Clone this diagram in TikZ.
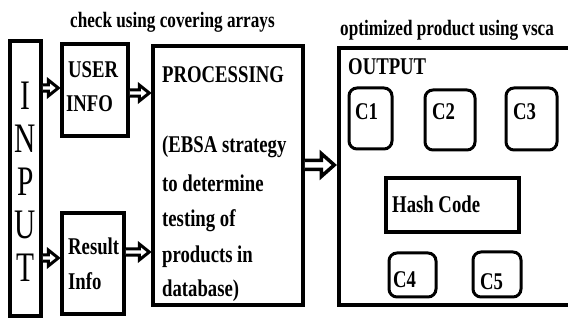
\documentclass[tikz,border=0pt]{standalone}
\usepackage{fontspec}
\setmainfont{Liberation Serif}
\newfontfamily\nar{Liberation Serif}[FakeStretch=0.78]
\newfontfamily\inpf{Liberation Serif}[FakeStretch=0.7]
\usetikzlibrary{arrows.meta,calc}
\begin{document}
\begin{tikzpicture}[x=1pt,y=-1pt,
  box/.style={draw, line width=3.5pt, rectangle, inner sep=0pt},
  cbox/.style={draw, line width=3pt, rectangle, rounded corners=8pt, inner sep=0pt},
  txt/.style={anchor=base west, inner sep=0pt, font=\nar\bfseries\fontsize{24}{36}\selectfont},
  lbl/.style={anchor=base west, inner sep=0pt, font=\nar\bfseries\fontsize{22}{26}\selectfont},
  inl/.style={anchor=base, inner sep=0pt, font=\inpf\fontsize{42}{44}\selectfont},
  harrow/.style={draw, line width=3pt, fill=white, line join=miter, miter limit=4,
    to path={let \p1=(\tikztostart), \p2=(\tikztotarget) in
      (\x1,\y1+3.2pt) -- (\x2-12pt,\y1+3.2pt) -- (\x2-12pt,\y1+8pt) -- (\x2-2pt,\y1)
      -- (\x2-12pt,\y1-8pt) -- (\x2-12pt,\y1-3.2pt) -- (\x1,\y1-3.2pt)}},
  bigharrow/.style={draw, line width=3.5pt, fill=white, line join=miter, miter limit=4,
    to path={let \p1=(\tikztostart), \p2=(\tikztotarget) in
      (\x1,\y1+4.5pt) -- (\x2-16pt,\y1+4.5pt) -- (\x2-16pt,\y1+11.5pt) -- (\x2-3pt,\y1)
      -- (\x2-16pt,\y1-11.5pt) -- (\x2-16pt,\y1-4.5pt) -- (\x1,\y1-4.5pt)}}]
\useasboundingbox[fill=white] (0,0) rectangle (568,320);

% arrows (drawn first so the box borders cover their starts)
\coordinate (a0) at (40,88);
\coordinate (a1) at (126,93);
\coordinate (a2) at (40,258);
\coordinate (a3) at (122,252);
\coordinate (a4) at (301,165);

% boxes
\node[box, minimum width=31pt, minimum height=275pt] (inp) at (25.5,178.5) {};
\node[box, minimum width=66pt, minimum height=92pt] (user) at (95,90) {};
\node[box, minimum width=62pt, minimum height=101pt] (res) at (93,263.5) {};
\node[box, minimum width=150pt, minimum height=259pt] (proc) at (228,175.5) {};
\node[box, minimum width=261pt, minimum height=257pt] (out) at (469.5,176.5) {};
\node[cbox, minimum width=43pt, minimum height=61pt] (c1) at (370.5,118.5) {};
\node[cbox, minimum width=50pt, minimum height=60pt] (c2) at (450,120) {};
\node[cbox, minimum width=51pt, minimum height=62pt] (c3) at (531.5,119) {};
\node[box, minimum width=133pt, minimum height=54pt] (hash) at (452.5,205) {};
\node[cbox, minimum width=47pt, minimum height=44pt] (c4) at (412.5,275) {};
\node[cbox, minimum width=48pt, minimum height=45pt] (c5) at (497,274.5) {};

\path[harrow] (a0 -| inp.east) to (a0 -| user.west);
\path[harrow] (a1 -| user.east) to (a1 -| proc.west);
\path[harrow] (a2 -| inp.east) to (a2 -| res.west);
\path[harrow] (a3 -| res.east) to (a3 -| proc.west);
\path[bigharrow] (a4 -| proc.east) to (a4 -| out.west);

% INPUT letters
\node[inl] (i1) at (25.5,110) {I};
\node[inl] (i2) at (25.5,153) {N};
\node[inl] (i3) at (25.5,196) {P};
\node[inl] (i4) at (25.5,239) {U};
\node[inl] (i5) at (25.5,282) {T};

% labels
\node[lbl] (l1) at (70,28) {check using covering arrays};
\node[lbl] (l2) at (340,36) {optimized product using vsca};

\node[txt] (t1) at (68,78) {USER};
\node[txt] (t2) at (66,112) {INFO};
\node[txt] (t3) at (68,255) {Result};
\node[txt] (t4) at (68,290) {Info};
\node[txt] (p1) at (162,83) {PROCESSING};
\node[txt] (p2) at (162,153) {(EBSA strategy};
\node[txt] (p3) at (162,192) {to determine};
\node[txt] (p4) at (162,227) {testing of};
\node[txt] (p5) at (162,263) {products in};
\node[txt] (p6) at (162,297) {database)};
\node[txt] (o1) at (348,75) {OUTPUT};
\node[txt] (k1) at (355,120) {C1};
\node[txt] (k2) at (432,120) {C2};
\node[txt] (k3) at (513,120) {C3};
\node[txt] (hc) at (392,213) {Hash Code};
\node[txt] (k4) at (393,288) {C4};
\node[txt] (k5) at (480,290) {C5};
\end{tikzpicture}
\end{document}
